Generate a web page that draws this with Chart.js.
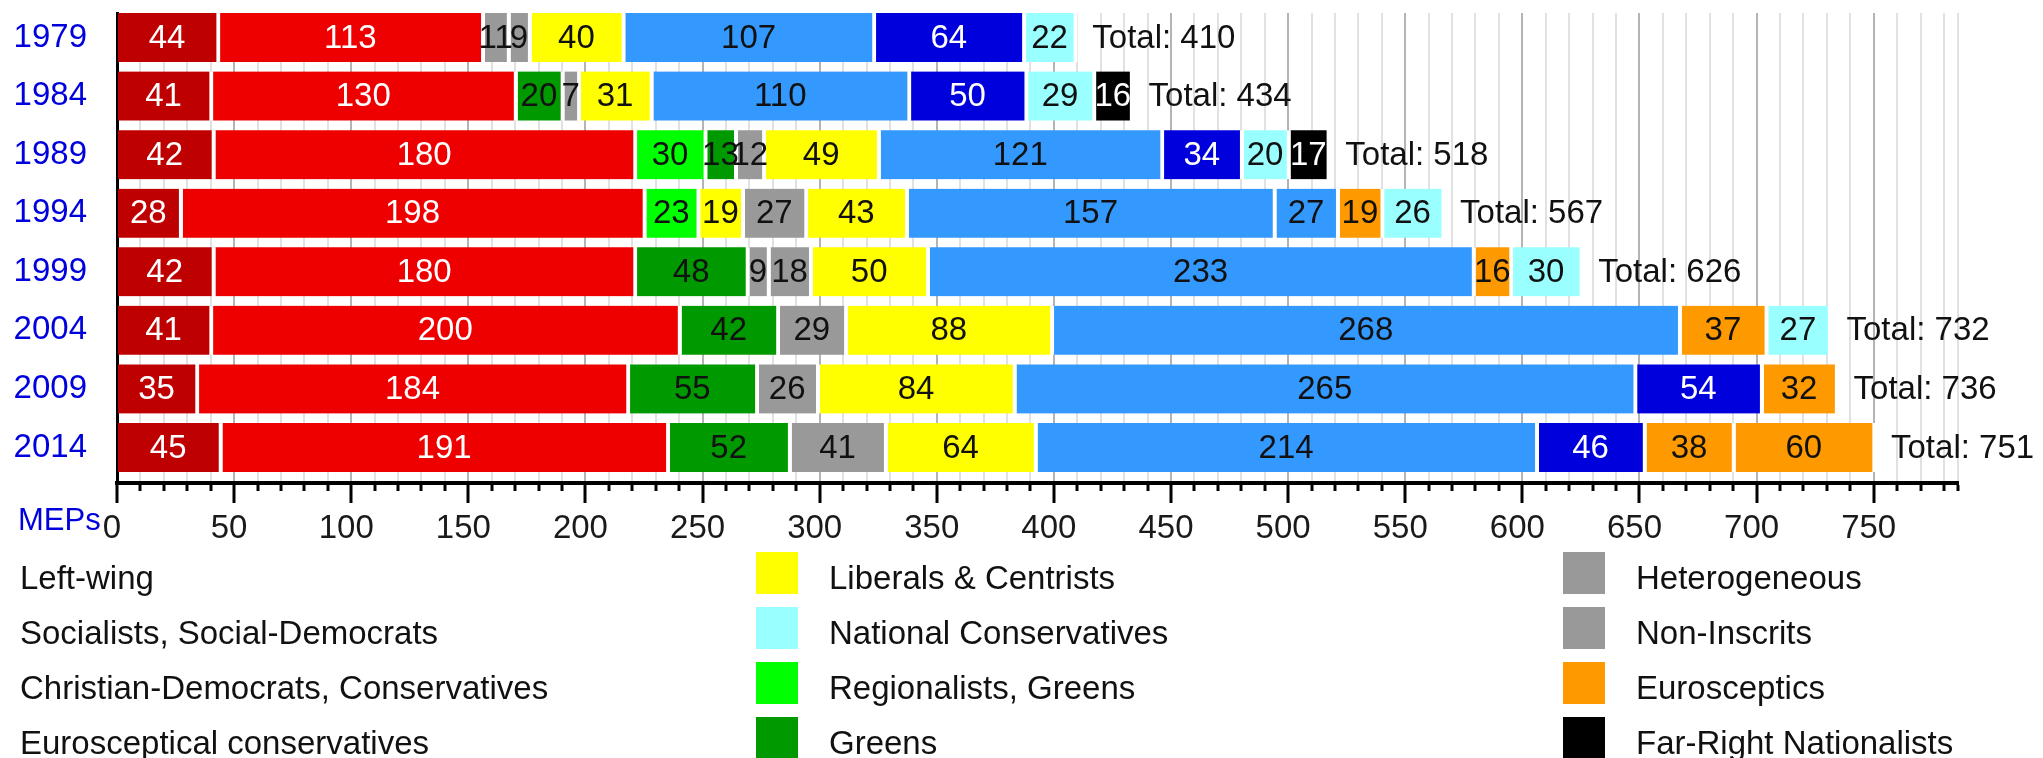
<!DOCTYPE html>
<html>
<head>
<meta charset="utf-8">
<title>European Parliament MEPs by group</title>
<script src="https://cdn.jsdelivr.net/npm/chart.js"></script>
<style>
  html, body { margin: 0; padding: 0; background: #fff; overflow: hidden; }
  #wrap { position: relative; width: 2043px; height: 758px; }
</style>
</head>
<body>
<div id="wrap"><canvas id="mepChart"></canvas></div>
<script>
// Seats per election, read left to right off each bar
var years = ['1979', '1984', '1989', '1994', '1999', '2004', '2009', '2014'];

var seats1979 = [44, 113, 11, 9, 40, 107, 64, 22];
var seats1984 = [41, 130, 20, 7, 31, 110, 50, 29, 16];
var seats1989 = [42, 180, 30, 13, 12, 49, 121, 34, 20, 17];
var seats1994 = [28, 198, 23, 19, 27, 43, 157, 27, 19, 26];
var seats1999 = [42, 180, 48, 9, 18, 50, 233, 16, 30];
var seats2004 = [41, 200, 42, 29, 88, 268, 37, 27];
var seats2009 = [35, 184, 55, 26, 84, 265, 54, 32];
var seats2014 = [45, 191, 52, 41, 64, 214, 46, 38, 60];

// Family of each segment, same order as the seats
var groups1979 = ['left', 'soc', 'het', 'ni', 'lib', 'epp', 'euc', 'nat'];
var groups1984 = ['left', 'soc', 'grn', 'ni', 'lib', 'epp', 'euc', 'nat', 'far'];
var groups1989 = ['left', 'soc', 'reg', 'grn', 'ni', 'lib', 'epp', 'euc', 'nat', 'far'];
var groups1994 = ['left', 'soc', 'reg', 'lib', 'ni', 'lib', 'epp', 'epp', 'esc', 'nat'];
var groups1999 = ['left', 'soc', 'grn', 'het', 'ni', 'lib', 'epp', 'esc', 'nat'];
var groups2004 = ['left', 'soc', 'grn', 'ni', 'lib', 'epp', 'esc', 'nat'];
var groups2009 = ['left', 'soc', 'grn', 'ni', 'lib', 'epp', 'euc', 'esc'];
var groups2014 = ['left', 'soc', 'grn', 'ni', 'lib', 'epp', 'euc', 'esc', 'esc'];

var totals = [410, 434, 518, 567, 626, 732, 736, 751];

var familyNames = {
    left: 'Left-wing',
    soc: 'Socialists, Social-Democrats',
    epp: 'Christian-Democrats, Conservatives',
    euc: 'Eurosceptical conservatives',
    lib: 'Liberals & Centrists',
    nat: 'National Conservatives',
    reg: 'Regionalists, Greens',
    grn: 'Greens',
    het: 'Heterogeneous',
    ni: 'Non-Inscrits',
    esc: 'Eurosceptics',
    far: 'Far-Right Nationalists'
};
var legendColumns = [
    ['left', 'soc', 'epp', 'euc'],
    ['lib', 'nat', 'reg', 'grn'],
    ['het', 'ni', 'esc', 'far']
];

var palette = {
    left: '#bf0000', soc: '#ee0000', epp: '#3399ff', euc: '#0000dd',
    lib: '#ffff00', nat: '#99ffff', reg: '#00ff00', grn: '#009900',
    het: '#999999', ni: '#999999', esc: '#ff9900', far: '#000000'
};
var lightText = ['left', 'soc', 'euc', 'far'];

var seatsByYear = [seats1979, seats1984, seats1989, seats1994, seats1999, seats2004, seats2009, seats2014];
var groupsByYear = [groups1979, groups1984, groups1989, groups1994, groups1999, groups2004, groups2009, groups2014];

// one dataset per position in the stack
var maxSlots = Math.max.apply(null, seatsByYear.map(function (s) { return s.length; }));
var datasets = [];
for (var k = 0; k < maxSlots; k++) {
    var pts = [];
    seatsByYear.forEach(function (s, i) {
        if (k < s.length) pts.push({ x: s[k], y: i, g: groupsByYear[i][k] });
    });
    datasets.push({
        label: 'slot ' + (k + 1),
        data: pts,
        backgroundColor: function (c) { return c.raw ? palette[c.raw.g] : '#ccc'; },
        borderColor: '#ffffff',
        borderWidth: { top: 0, right: 4, bottom: 0, left: 0 },
        borderSkipped: false,
        barThickness: 49
    });
}

var FONT = '"Liberation Sans", Arial, sans-serif';
Chart.defaults.font.family = FONT;

var labelsPlugin = {
    id: 'segmentLabels',
    afterDatasetsDraw: function (chart) {
        var ctx = chart.ctx;
        ctx.save();
        ctx.font = '33px ' + FONT;
        ctx.textAlign = 'center';
        ctx.textBaseline = 'middle';
        chart.data.datasets.forEach(function (ds, di) {
            var meta = chart.getDatasetMeta(di);
            meta.data.forEach(function (bar, j) {
                var p = ds.data[j];
                ctx.fillStyle = lightText.indexOf(p.g) >= 0 ? '#ffffff' : '#111111';
                ctx.fillText(String(p.x), (bar.x + bar.base) / 2 - 2, bar.y + 1);
            });
        });
        var xs = chart.scales.x, ys = chart.scales.y;
        ctx.textAlign = 'left';
        ctx.fillStyle = '#111111';
        seatsByYear.forEach(function (s, i) {
            var end = s.reduce(function (a, b) { return a + b; }, 0);
            ctx.fillText('Total: ' + totals[i], xs.getPixelForValue(end) + 15, ys.getPixelForValue(i) + 1);
        });
        ctx.restore();
    },
    afterDraw: function (chart) {
        var ctx = chart.ctx;
        ctx.save();
        // axis unit
        ctx.font = '31px ' + FONT;
        ctx.fillStyle = '#0000dd';
        ctx.textBaseline = 'alphabetic';
        ctx.textAlign = 'left';
        ctx.fillText('MEPs', 18, 530);
        // legend
        var colX = [-53, 756, 1563];
        ctx.font = '33px ' + FONT;
        legendColumns.forEach(function (col, c) {
            col.forEach(function (key, r) {
                var top = 552 + r * 55;
                ctx.fillStyle = palette[key];
                ctx.fillRect(colX[c], top, 42, 42);
                ctx.fillStyle = '#111111';
                ctx.fillText(familyNames[key], colX[c] + 73, top + 37);
            });
        });
        ctx.restore();
    }
};

new Chart(document.getElementById('mepChart'), {
    type: 'bar',
    data: { datasets: datasets },
    plugins: [labelsPlugin],
    options: {
        indexAxis: 'y',
        responsive: true,
        maintainAspectRatio: false,
        animation: false,
        events: [],
        layout: { padding: { top: 13, left: 0, right: 85, bottom: 200 } },
        plugins: { legend: { display: false }, tooltip: { enabled: false } },
        scales: {
            x: {
                type: 'linear',
                stacked: true,
                min: 0,
                max: 786,
                bounds: 'data',
                afterFit: function (s) { s.height = 75; s.paddingLeft = 0; s.paddingRight = 0; },
                border: { color: '#000000', width: 4 },
                grid: {
                    color: function (c) { return c.tick && c.tick.value % 50 === 0 ? '#b4b4b4' : '#e1e1e1'; },
                    lineWidth: 2,
                    tickColor: '#000000',
                    tickWidth: 3,
                    tickLength: 20,
                    tickBorderDash: function (c) { return c.tick && c.tick.value % 50 === 0 ? [] : [6, 100]; }
                },
                ticks: {
                    stepSize: 10,
                    includeBounds: false,
                    autoSkip: false,
                    maxRotation: 0,
                    padding: 6,
                    labelOffset: -5,
                    color: '#1a1a1a',
                    font: { size: 33 },
                    callback: function (v) { return v % 50 === 0 ? String(v) : ''; }
                }
            },
            y: {
                type: 'linear',
                stacked: true,
                reverse: true,
                offset: false,
                bounds: 'data',
                min: -0.4183,
                max: 7.6061,
                afterBuildTicks: function (s) {
                    s.ticks = years.map(function (y, i) { return { value: i }; });
                },
                afterFit: function (s) { s.width = 117; s.paddingTop = 0; s.paddingBottom = 0; },
                border: { color: '#000000', width: 3 },
                grid: { display: true, offset: false, drawOnChartArea: false, drawTicks: false },
                ticks: {
                    autoSkip: false,
                    padding: 30,
                    color: '#0000dd',
                    font: { size: 33 },
                    callback: function (v) { return years[v] !== undefined ? years[v] : ''; }
                }
            }
        }
    }
});
</script>
</body>
</html>
